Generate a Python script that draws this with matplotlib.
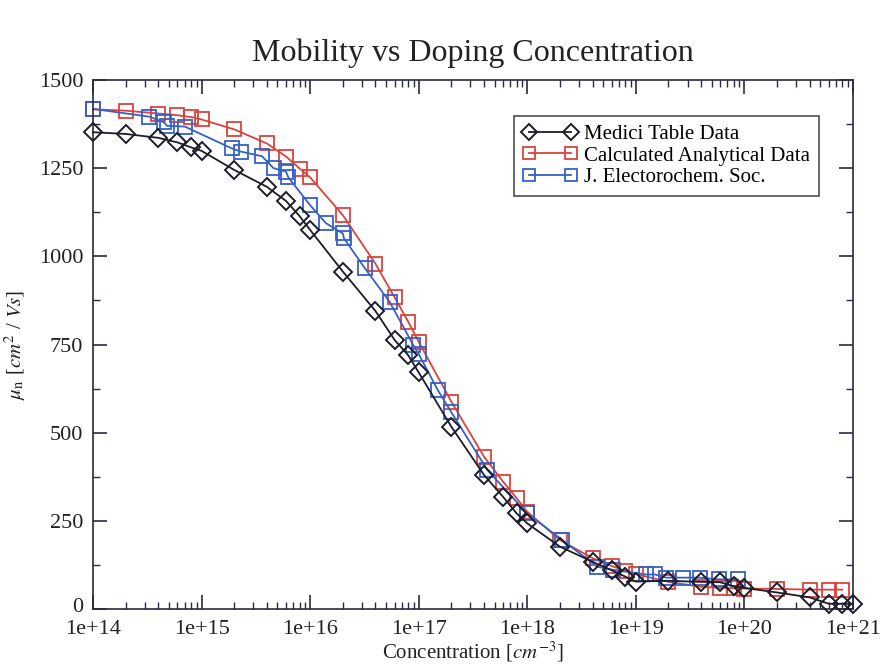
import numpy as np
import matplotlib
matplotlib.use("Agg")
import matplotlib.pyplot as plt
import matplotlib.transforms as mtransforms
from matplotlib.ticker import FixedLocator, FuncFormatter, LogLocator, NullFormatter

plt.rcParams['font.family'] = ['Liberation Serif', 'DejaVu Serif']
plt.rcParams['mathtext.fontset'] = 'stix'

# Medici table data
medici_x = [1e14, 2e14, 4e14, 6e14, 8e14, 1e15, 2e15, 4e15, 6e15, 8e15,
            1e16, 2e16, 4e16, 6e16, 8e16, 1e17, 2e17, 4e17, 6e17, 8e17,
            1e18, 2e18, 4e18, 6e18, 8e18, 1e19, 2e19, 4e19, 6e19, 8e19,
            1e20, 2e20, 4e20, 6e20, 8e20, 1e21]
medici_y = [1352, 1347, 1336, 1323, 1309, 1299, 1245, 1197, 1157, 1114,
            1075, 957, 845, 763, 720, 671, 517, 380, 318, 271,
            243, 177, 134, 110, 92, 78, 80, 77, 76, 64,
            60, 47, 33, 15, 15, 15]

# calculated analytical model
calc_x = [1e14, 2e14, 4e14, 6e14, 8e14, 1e15, 2e15, 4e15, 6e15, 8e15,
          1e16, 2e16, 4e16, 6e16, 8e16, 1e17, 2e17, 4e17, 6e17, 8e17,
          1e18, 2e18, 4e18, 6e18, 8e18, 1e19, 2e19, 4e19, 6e19, 8e19,
          1e20, 2e20, 4e20, 6e20, 8e20]
calc_y = [1417, 1413, 1405, 1400, 1395, 1388, 1360, 1320, 1283, 1249,
          1224, 1117, 979, 884, 815, 758, 588, 432, 361, 314,
          276, 196, 144, 122, 108, 99, 77, 63, 60, 59,
          58, 57, 55, 55, 55]

# J. Electrochem. Soc. measurements
jes_x = [1.0e14, 3.3e14, 4.5e14, 4.8e14, 7.0e14, 1.9e15, 2.3e15, 3.6e15, 4.6e15, 6.0e15,
         6.3e15, 1.0e16, 1.4e16, 2.0e16, 2.05e16, 3.2e16, 5.4e16, 8.9e16, 1.0e17, 1.5e17,
         2.0e17, 4.3e17, 1.0e18, 2.1e18, 4.4e18, 6.2e18, 1.25e19, 1.5e19, 1.9e19, 2.7e19,
         3.9e19, 5.8e19, 8.7e19]
jes_y = [1418, 1396, 1380, 1370, 1368, 1306, 1297, 1284, 1250, 1240,
         1224, 1145, 1094, 1065, 1051, 966, 871, 749, 723, 621,
         558, 394, 271, 196, 120, 111, 98, 98, 89, 89,
         89, 84, 84]

fig = plt.figure(figsize=(8.81, 6.70), dpi=100)
ax = fig.add_axes([0.1056, 0.091, 0.8624, 0.7896])

lw = 1.3
ax.plot(medici_x, medici_y, color='#1c1c2a', lw=lw, marker='D', markersize=9.5,
        fillstyle='none', markeredgewidth=1.4, label='Medici Table Data', zorder=3)
ax.plot(calc_x, calc_y, color='#d9433c', lw=lw, marker='s', markersize=10.5,
        fillstyle='none', markeredgewidth=1.3, label='Calculated Analytical Data', zorder=2)
ax.plot(jes_x, jes_y, color='#3560c8', lw=lw, marker='s', markersize=10.5,
        fillstyle='none', markeredgewidth=1.3, label='J. Electorochem. Soc.', zorder=2)

ax.set_xscale('log')
ax.set_xlim(1e14, 1e21)
ax.set_ylim(0, 1500)
for ln in ax.lines:
    ln.set_clip_on(False)

ax.xaxis.set_major_locator(FixedLocator([10.0 ** k for k in range(14, 22)]))
ax.xaxis.set_major_formatter(FuncFormatter(lambda v, p: '1e+%d' % round(np.log10(v))))
ax.xaxis.set_minor_locator(LogLocator(base=10, subs=np.arange(2, 10), numticks=50))
ax.xaxis.set_minor_formatter(NullFormatter())
ax.yaxis.set_major_locator(FixedLocator(np.arange(0, 1501, 250)))
ax.yaxis.set_minor_locator(FixedLocator(np.arange(125, 1500, 250)))

spine_col = '#2a2a40'
for s in ax.spines.values():
    s.set_color(spine_col)
    s.set_linewidth(1.2)
ax.tick_params(which='both', direction='in', top=True, right=True, colors=spine_col,
               labelcolor='#222222', labelsize=16)
ax.tick_params(axis='y', which='major', pad=7)
ax.tick_params(axis='x', which='major', pad=8)
ax.tick_params(which='major', length=10, width=1.2)
ax.tick_params(which='minor', length=5, width=1.0)

# lift the "0" label a little so it clears the first x label
fig.canvas.draw()
ylabels = ax.get_yticklabels()
ylabels[0].set_transform(ylabels[0].get_transform() +
                         mtransforms.ScaledTranslation(0, 3 / 72, fig.dpi_scale_trans))

ax.set_title('Mobility vs Doping Concentration', fontsize=23, pad=14, color='#222222')
ax.set_xlabel(r'Concentration [$cm^{-3}$]', fontsize=15, color='#222222', labelpad=0)
ax.set_ylabel(r'$\mu_{\rm n}$ [$cm^{2}$ / $Vs$]', fontsize=15, color='#222222', labelpad=8)

leg = ax.legend(loc='upper right', bbox_to_anchor=(0.955, 0.932), numpoints=2,
                fontsize=15, frameon=True, fancybox=False, borderpad=0.4,
                handlelength=2.6, handletextpad=0.35, labelspacing=0.1,
                borderaxespad=0)
leg.get_frame().set_edgecolor('#222222')
leg.get_frame().set_linewidth(1.2)
for h in leg.legend_handles:
    h.set_markersize(8)

fig.savefig('out.png', dpi=100)
